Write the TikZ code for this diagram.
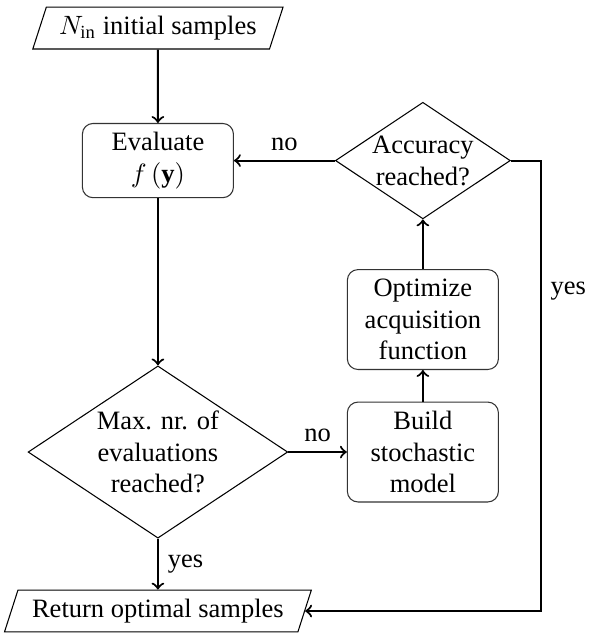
\documentclass[tikz,border=0pt]{standalone}
\usepackage{amsmath}
\usepackage{fontspec}
\setmainfont{Liberation Serif}
\usetikzlibrary{shapes.geometric,arrows,positioning}

\begin{document}
\begin{tikzpicture}[node distance=50pt,auto,
	block/.style={rectangle,rounded corners,draw=black!80,text width=50pt,align=center,minimum width=57pt,minimum height=28pt,inner sep=3pt},
	decision/.style={diamond,draw,thin,align=center,aspect=1.5,inner sep=0pt},
	io/.style={trapezium,trapezium left angle=70,trapezium right angle=110,trapezium stretches=true,draw,thin,inner sep=2pt,minimum height=15.8pt},
	flow/.style={->,thick}]
	\useasboundingbox (-59.6pt,10.6pt) rectangle (163.8pt,-228.3pt);
	\node(init) [io,minimum width=95pt]{$N_\text{in}$ initial samples};
	\node(eval) [block,below of=init]{Evaluate\\$f\left(\mathbf{y}\right)$};
	\node(maxev) [decision,below of=eval,node distance=110pt,minimum width=98pt,minimum height=65pt]{Max. nr. of\\evaluations\\reached?};
	\node(ret) [io,below of=maxev,node distance=60pt,minimum width=116pt]{Return optimal samples};
	\node(build) [block,right of=maxev,node distance=100pt,minimum height=37.7pt]{Build\\stochastic\\model};
	\node(opt) [block,above of=build,minimum height=37.7pt]{Optimize\\acquisition\\function};
	\node(acc) [decision,above of=opt,node distance=60pt,minimum width=66pt,minimum height=44pt,inner sep=-2pt]{Accuracy\\reached?};
	\draw[flow] (init) -- (eval);
	\draw[flow] (eval) -- (maxev);
	\draw[flow] (maxev) -- node[right]{yes} (ret);
	\draw[flow] (maxev) -- node[above]{no} (build);
	\draw[flow] (build) -- (opt);
	\draw[flow] (opt) -- (acc);
	\draw[flow] (acc) -- node[above]{no} (eval);
	\draw[flow] (acc.east) -- ++(11.3pt,0) |- node[pos=0.145,right]{yes} (ret.east);
\end{tikzpicture}
\end{document}
